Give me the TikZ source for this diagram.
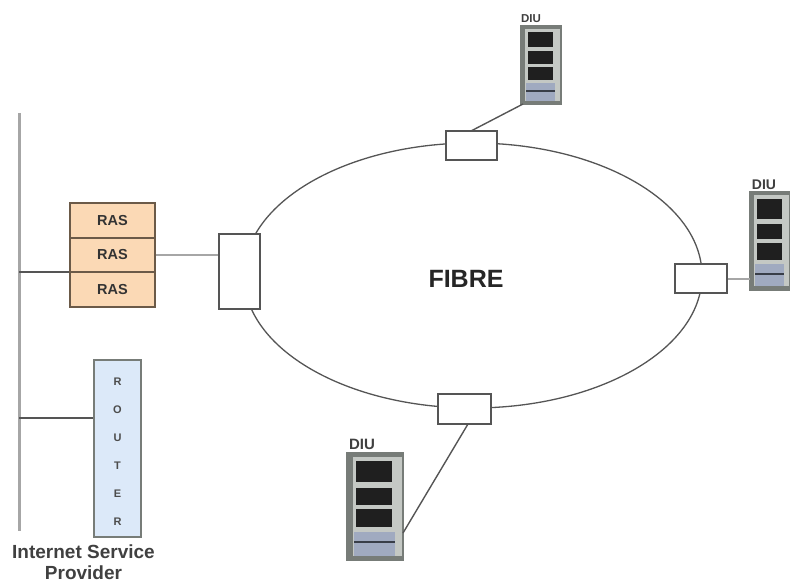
\documentclass[tikz,border=0pt]{standalone}
\usepackage{fontspec}
\setmainfont{Liberation Sans}
\usetikzlibrary{calc,shapes.geometric}
\definecolor{lineC}{HTML}{555555}
\definecolor{railC}{HTML}{A6A6A6}
\definecolor{frameC}{HTML}{777C78}
\definecolor{rasC}{HTML}{FBD9B5}
\definecolor{rasL}{HTML}{6B5A48}
\definecolor{routC}{HTML}{DCE9F9}
\definecolor{panelC}{HTML}{8F9BB5}
\definecolor{sideC}{HTML}{C4C8C4}
\tikzset{
  ringline/.style={draw=lineC,line width=1.3pt},
  conn/.style={draw=lineC,line width=1.4pt},
  thickconn/.style={draw=railC,line width=2.4pt},
  tap/.style={draw=lineC,line width=1.4pt,fill=white,inner sep=0pt},
  rasbox/.style={draw=rasL,line width=1.5pt,fill=rasC,minimum width=85pt,inner sep=0pt,font=\bfseries\fontsize{14.5}{16}\selectfont,text=black!80},
  routbox/.style={draw=frameC,line width=1.6pt,fill=routC,minimum width=47pt,minimum height=177pt,inner sep=0pt,align=center,font=\bfseries\fontsize{11}{12}\selectfont,text=black!70},
  lab/.style={inner sep=0pt,font=\bfseries,text=black!75,align=center},
  rackbox/.style={draw=frameC,line width=1.2pt,fill=sideC,inner sep=0pt},
}
% name, centre x, centre y, width, height
\newcommand{\diurack}[5]{%
  \node[rackbox,minimum width=#4pt,minimum height=#5pt] (#1) at (#2,#3) {};
  \begin{scope}[shift={(#1.north west)},x=#4pt,y=-#5pt]
    \fill[frameC] (0,0) rectangle (0.11,1);
    \fill[frameC] (0,0) rectangle (1,0.04);
    \fill[frameC] (0,0.97) rectangle (1,1);
    \fill[black!88] (0.18,0.08) rectangle (0.82,0.28);
    \fill[black!88] (0.18,0.33) rectangle (0.82,0.49);
    \fill[black!88] (0.18,0.53) rectangle (0.82,0.70);
    \fill[panelC!85] (0.14,0.74) rectangle (0.86,0.97);
    \fill[panelC!40!black] (0.14,0.83) rectangle (0.86,0.85);
  \end{scope}
}
\begin{document}
\begin{tikzpicture}[x=1pt,y=-1pt]
\useasboundingbox (0,0) rectangle (790,583);
\node[ringline,draw,ellipse,minimum width=458pt,minimum height=265pt,inner sep=0pt] (ring) at (473,275.5) {};
% rail
\coordinate (railT) at (19,113);
\coordinate (railB) at (19,531);
\coordinate (railR) at (19,272);
\coordinate (railU) at (19,418);
\draw[draw=railC,line width=3pt] (railT) -- (railB);
% RAS stack
\node[rasbox,minimum height=35pt] (ras1) at (112.5,220.5) {RAS};
\node[rasbox,minimum height=34pt] (ras2) at (112.5,255) {RAS};
\node[rasbox,minimum height=35pt] (ras3) at (112.5,289.5) {RAS};
\draw[conn] (railR) -- (railR -| ras2.west);
% Router
\node[routbox] (router) at (117.5,448.5) {\rule{0pt}{13pt}R\\[16pt]O\\[16pt]U\\[16pt]T\\[16pt]E\\[16pt]R};
\draw[conn] (railU) -- (railU -| router.west);
\node[lab,font=\bfseries\fontsize{19}{21}\selectfont] (isp) at (83.5,562.5) {Internet Service\\Provider};
% Taps
\node[tap,minimum width=41pt,minimum height=75pt] (tapL) at (239.5,271.5) {};
\node[tap,minimum width=51pt,minimum height=29pt] (tapT) at (471.5,145.5) {};
\node[tap,minimum width=52pt,minimum height=29pt] (tapR) at (701,278.5) {};
\node[tap,minimum width=53pt,minimum height=30pt] (tapB) at (464.5,409) {};
\draw[thickconn] (ras2.east) -- (ras2.east -| tapL.west);
% Racks
\diurack{rackT}{541}{65}{40}{78}
\diurack{rackR}{770}{241}{40}{98}
\diurack{rackB}{375}{506.5}{56}{107}
\coordinate (rackBport) at (403,533);
\coordinate (rackTport) at (523,104);
\coordinate (tapTport) at (471,131);
\coordinate (tapBport) at (468,424);
\coordinate (rackRport) at (750,279);
\draw[conn] (tapTport) -- (rackTport);
\draw[thickconn] (tapR.east |- rackRport) -- (rackRport);
\draw[conn] (tapBport) -- (rackBport);
% Labels
\node[lab,font=\bfseries\fontsize{11.5}{13}\selectfont] (diuT) at (531,19) {DIU};
\node[lab,font=\bfseries\fontsize{14}{16}\selectfont] (diuR) at (764,184.5) {DIU};
\node[lab,font=\bfseries\fontsize{15}{17}\selectfont] (diuB) at (362,444) {DIU};
\node[lab,font=\bfseries\fontsize{25}{28}\selectfont,text=black!85] (fibre) at (466,279) {FIBRE};
\end{tikzpicture}
\end{document}
